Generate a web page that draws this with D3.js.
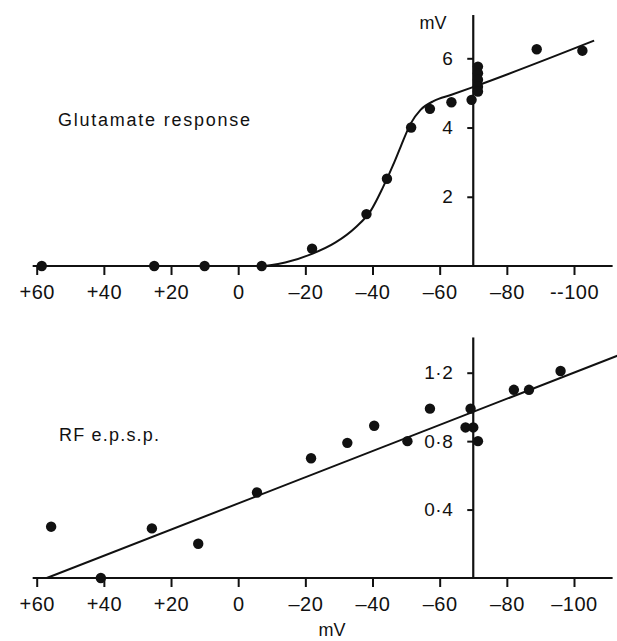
<!DOCTYPE html>
<html>
<head>
<meta charset="utf-8">
<script src="https://cdn.jsdelivr.net/npm/d3@7/dist/d3.min.js"></script>
<style>
body { margin: 0; background: #fff; }
text { font-family: "Liberation Sans", Arial, sans-serif; fill: #111; }
</style>
</head>
<body>
<div id="chart"></div>
<script>
// membrane potential ticks (mV), shared by both panels
var xTicks = [60, 40, 20, 0, -20, -40, -60, -80, -100];
var xLabelsTop = ["+60", "+40", "+20", "0", "\u201320", "\u201340", "\u201360", "\u201380", "--100"];
var xLabelsBottom = ["+60", "+40", "+20", "0", "\u201320", "\u201340", "\u201360", "\u201380", "\u2013100"];

// Glutamate response (mV) vs membrane potential
var gluPotential = [58.5, 25, 10, -7, -22, -38.2, -44.3, -51.5, -57.1, -63.5, -69.5,
                    -71.4, -71.4, -71.4, -71.4, -71.4, -88.9, -102.5];
var gluResponse  = [0, 0, 0, 0, 0.5, 1.5, 2.52, 4.0, 4.54, 4.73, 4.8,
                    5.76, 5.57, 5.38, 5.18, 5.04, 6.26, 6.22];
// fitted curve
var gluCurvePotential = [58.5, -7, -14, -22, -29, -35, -39.5, -43, -46.5, -48.4, -51.4, -54.3, -58.3, -63.3, -69.7, -106];
var gluCurveResponse  = [0, 0, 0.1, 0.35, 0.68, 1.12, 1.6, 2.25, 3.0, 3.45, 4.12, 4.51, 4.77, 4.94, 5.16, 6.51];
var gluYTicks = [2, 4, 6];
var gluYLabels = ["2", "4", "6"];

// RF e.p.s.p. amplitude (mV) vs membrane potential
var epspPotential = [55.7, 40.9, 25.7, 11.9, -5.6, -21.7, -32.5, -40.5, -50.4, -57.1,
                     -67.7, -70, -69.2, -71.4, -82.1, -86.6, -96];
var epspAmplitude = [0.30, 0, 0.29, 0.20, 0.50, 0.70, 0.79, 0.89, 0.80, 0.99,
                     0.88, 0.88, 0.99, 0.80, 1.10, 1.10, 1.21];
var epspLinePotential = [57, -113];
var epspLineAmplitude = [0, 1.30];
var epspYTicks = [0.4, 0.8, 1.2];
var epspYLabels = ["0\u00b74", "0\u00b78", "1\u00b72"];

var width = 617, height = 641;

var svg = d3.select("#chart").append("svg")
    .attr("width", width)
    .attr("height", height);

var x = d3.scaleLinear().domain([60, -100]).range([36.7, 574]);
var xAxisCross = -70;

var _drawPanel = function(p) {
    var g = svg.append("g");

    // horizontal axis
    g.append("line")
        .attr("x1", x(61.2)).attr("x2", x(-111.5))
        .attr("y1", p.y(0)).attr("y2", p.y(0))
        .attr("stroke", "#111").attr("stroke-width", 2.2);

    var xa = g.append("g")
        .attr("transform", "translate(0," + p.y(0) + ")")
        .call(d3.axisBottom(x).tickValues(xTicks).tickSize(9).tickSizeOuter(0)
              .tickFormat(function(d, i) { return p.xLabels[i]; }));
    xa.select(".domain").remove();
    xa.selectAll(".tick line").attr("stroke", "#111").attr("stroke-width", 2);
    xa.selectAll(".tick text")
        .attr("y", 33).attr("dy", 0)
        .attr("font-size", 20).attr("letter-spacing", 0.5)
        .style("font-family", "'Liberation Sans', Arial, sans-serif")
        .attr("fill", "#111");

    // vertical axis crossing at -70 mV
    var vx = x(xAxisCross);
    g.append("line")
        .attr("x1", vx).attr("x2", vx)
        .attr("y1", p.y(0)).attr("y2", p.y(p.yTop))
        .attr("stroke", "#111").attr("stroke-width", 2.2);

    var ya = g.append("g")
        .attr("transform", "translate(" + vx + ",0)")
        .call(d3.axisLeft(p.y).tickValues(p.yTicks).tickSize(6).tickPadding(14)
              .tickFormat(function(d, i) { return p.yLabels[i]; }));
    ya.select(".domain").remove();
    ya.selectAll(".tick line").attr("stroke", "#111").attr("stroke-width", 2);
    ya.selectAll(".tick text")
        .attr("font-size", 19).attr("letter-spacing", 0.5)
        .style("font-family", "'Liberation Sans', Arial, sans-serif")
        .attr("fill", "#111");

    // fitted line
    var line = d3.line()
        .x(function(d) { return x(d[0]); })
        .y(function(d) { return p.y(d[1]); })
        .curve(p.curve);
    g.append("path")
        .datum(d3.zip(p.lineX, p.lineY))
        .attr("d", line)
        .attr("fill", "none")
        .attr("stroke", "#111")
        .attr("stroke-width", 2);

    // points
    g.selectAll("circle")
        .data(d3.zip(p.px, p.py))
        .enter().append("circle")
        .attr("cx", function(d) { return x(d[0]); })
        .attr("cy", function(d) { return p.y(d[1]); })
        .attr("r", 5.2)
        .attr("fill", "#111");

    // panel title
    g.append("text")
        .attr("x", p.title.x).attr("y", p.title.y)
        .attr("font-size", 18)
        .attr("textLength", p.title.w).attr("lengthAdjust", "spacing")
        .text(p.title.text);
};

_drawPanel({
    y: d3.scaleLinear().domain([0, 6]).range([266, 58.3]),
    yTop: 7.25,
    yTicks: gluYTicks, yLabels: gluYLabels,
    xLabels: xLabelsTop,
    lineX: gluCurvePotential, lineY: gluCurveResponse,
    curve: d3.curveMonotoneX,
    px: gluPotential, py: gluResponse,
    title: { text: "Glutamate response", x: 58, y: 126, w: 192 }
});

_drawPanel({
    y: d3.scaleLinear().domain([0, 1.2]).range([578, 372.7]),
    yTop: 1.406,
    yTicks: epspYTicks, yLabels: epspYLabels,
    xLabels: xLabelsBottom,
    lineX: epspLinePotential, lineY: epspLineAmplitude,
    curve: d3.curveLinear,
    px: epspPotential, py: epspAmplitude,
    title: { text: "RF e.p.s.p.", x: 59, y: 441, w: 100 }
});

// axis units
svg.append("text")
    .attr("x", 433).attr("y", 29)
    .attr("text-anchor", "middle")
    .attr("font-size", 18)
    .text("mV");

svg.append("text")
    .attr("x", 332).attr("y", 636)
    .attr("text-anchor", "middle")
    .attr("font-size", 18)
    .text("mV");
</script>
</body>
</html>
